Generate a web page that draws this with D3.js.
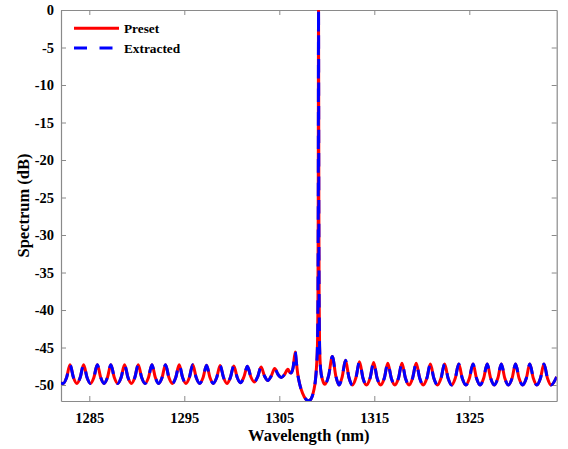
<!DOCTYPE html>
<html>
<head>
<meta charset="utf-8">
<script src="https://cdn.jsdelivr.net/npm/d3@7"></script>
<style>
    html, body { margin: 0; padding: 0; background: #fff; overflow: hidden; }
    svg { display: block; }
    svg text { font-family: "Liberation Serif", "Times New Roman", serif; font-weight: bold; fill: #000; }
</style>
</head>
<body>
<svg id="chart"></svg>
<script>
// wavelength samples (nm)
const wavelength = [
    1282.02, 1282.25, 1282.61, 1282.97, 1283.33, 1283.69, 1284.04, 1284.40, 1284.76, 1285.12,
    1285.48, 1285.84, 1286.20, 1286.55, 1286.91, 1287.27, 1287.63, 1287.99, 1288.35, 1288.71,
    1289.07, 1289.43, 1289.79, 1290.15, 1290.51, 1290.87, 1291.23, 1291.59, 1291.95, 1292.30,
    1292.66, 1293.02, 1293.38, 1293.74, 1294.10, 1294.46, 1294.82, 1295.17, 1295.53, 1295.89,
    1296.25, 1296.62, 1296.98, 1297.34, 1297.70, 1298.05, 1298.41, 1298.77, 1299.13, 1299.49,
    1299.85, 1300.21, 1300.57, 1300.92, 1301.28, 1301.64, 1302.00, 1302.36, 1302.72, 1303.08,
    1303.44, 1303.80, 1304.15, 1304.51, 1304.87, 1305.20, 1305.55, 1305.90, 1306.10, 1306.25,
    1306.45, 1306.68, 1306.80, 1306.95, 1307.15, 1307.45, 1307.80, 1308.10, 1308.40, 1308.65,
    1308.78, 1308.92, 1309.02, 1309.07, 1309.10, 1309.13, 1309.16, 1309.19, 1309.24, 1309.35,
    1309.55, 1309.80, 1310.20, 1310.58, 1310.95, 1311.28, 1311.62, 1311.97, 1312.33, 1312.70,
    1313.07, 1313.44, 1313.81, 1314.18, 1314.55, 1314.93, 1315.30, 1315.67, 1316.05, 1316.42,
    1316.79, 1317.16, 1317.54, 1317.91, 1318.28, 1318.66, 1319.03, 1319.41, 1319.78, 1320.15,
    1320.53, 1320.90, 1321.27, 1321.65, 1322.02, 1322.40, 1322.77, 1323.14, 1323.52, 1323.89,
    1324.26, 1324.64, 1325.01, 1325.39, 1325.76, 1326.13, 1326.51, 1326.88, 1327.25, 1327.62,
    1328.00, 1328.37, 1328.74, 1329.12, 1329.50, 1329.87, 1330.24, 1330.62, 1331.00, 1331.37,
    1331.74, 1332.11, 1332.49, 1332.86, 1333.23, 1333.60, 1334.20
];

// preset spectrum (dB)
const presetDb = [
    -49.7, -49.8, -49.0, -47.3, -49.0, -49.8, -49.0, -47.3, -49.0, -49.8,
    -49.0, -47.3, -49.0, -49.8, -49.0, -47.3, -49.0, -49.8, -49.0, -47.3,
    -49.0, -49.8, -49.0, -47.3, -49.0, -49.8, -49.0, -47.3, -49.0, -49.8,
    -49.0, -47.3, -49.0, -49.8, -49.0, -47.3, -49.0, -49.8, -49.0, -47.3,
    -49.0, -49.8, -49.0, -47.35, -49.0, -49.8, -49.0, -47.4, -49.0, -49.8,
    -49.0, -47.45, -49.0, -49.7, -48.9, -47.5, -48.9, -49.6, -48.9, -47.6,
    -48.8, -49.4, -48.8, -47.8, -48.6, -49.0, -48.6, -47.9, -48.3, -48.4,
    -47.7, -45.6, -47.0, -48.6, -49.9, -51.1, -51.9, -52.1, -51.7, -50.6,
    -49.6, -47.5, -44.5, -38.0, -25.0, 0, -25.0, -38.0, -44.8, -47.9,
    -49.3, -49.9, -48.7, -46.2, -48.8, -50.0, -48.9, -46.7, -49.0, -50.0,
    -49.0, -46.9, -49.1, -50.0, -49.1, -47.0, -49.1, -50.0, -49.1, -47.1,
    -49.1, -50.0, -49.1, -47.1, -49.1, -50.0, -49.1, -47.1, -49.1, -50.0,
    -49.1, -47.2, -49.1, -50.0, -49.1, -47.2, -49.1, -50.0, -49.1, -47.2,
    -49.1, -50.0, -49.1, -47.2, -49.1, -50.0, -49.1, -47.2, -49.1, -50.0,
    -49.1, -47.2, -49.1, -50.0, -49.1, -47.2, -49.1, -50.0, -49.1, -47.2,
    -49.1, -50.0, -49.1, -47.2, -49.1, -50.0, -48.9
];

// extracted spectrum lies on top of the preset one everywhere in the figure
const extractedDb = [...presetDb];

const xTicks = [1285, 1295, 1305, 1315, 1325];
const yTicks = [0, -5, -10, -15, -20, -25, -30, -35, -40, -45, -50];

const seriesNames = ['Preset', 'Extracted'];
const seriesColors = ['#ff0000', '#0000ff'];

const width = 568, height = 449;
const margin = {top: 10, right: 11.3, bottom: 48, left: 61};
const innerWidth = width - margin.left - margin.right;
const innerHeight = height - margin.top - margin.bottom;

const svg = d3.select('#chart')
    .attr('width', width)
    .attr('height', height);

const chart = svg.append('g')
    .attr('transform', `translate(${margin.left}, ${margin.top})`);

const xscale = d3.scaleLinear()
    .domain([1282.02, 1334.2])
    .range([0, innerWidth]);

const yscale = d3.scaleLinear()
    .domain([-52.13, 0])
    .range([innerHeight, 0]);

chart.append('clipPath')
    .attr('id', 'plot-clip')
    .append('rect')
    .attr('width', innerWidth)
    .attr('height', innerHeight);

const axisColor = '#8a8a8a';
const tickLen = 5;
const plain = d => String(d);   // hyphen minus, no thousands separator

// axes with inward ticks (box style)
const xaxisBottom = chart.append('g')
    .attr('transform', `translate(0, ${innerHeight})`)
    .call(d3.axisBottom(xscale).tickValues(xTicks).tickSizeInner(-tickLen).tickSizeOuter(0).tickPadding(12).tickFormat(plain));
const xaxisTop = chart.append('g')
    .call(d3.axisTop(xscale).tickValues(xTicks).tickSizeInner(-tickLen).tickSizeOuter(0));
const yaxisLeft = chart.append('g')
    .call(d3.axisLeft(yscale).tickValues(yTicks).tickSizeInner(-tickLen).tickSizeOuter(0).tickPadding(7).tickFormat(plain));
const yaxisRight = chart.append('g')
    .attr('transform', `translate(${innerWidth}, 0)`)
    .call(d3.axisRight(yscale).tickValues(yTicks).tickSizeInner(-tickLen).tickSizeOuter(0));

// mirrored axes carry ticks only
xaxisTop.selectAll('.tick text').remove();
yaxisRight.selectAll('.tick text').remove();

[xaxisBottom, xaxisTop, yaxisLeft, yaxisRight].forEach(g => {
    g.attr('font-family', null).attr('font-size', null);
    g.select('.domain').attr('stroke', axisColor).attr('stroke-width', 1.2);
    g.selectAll('.tick line').attr('stroke', axisColor);
    g.selectAll('.tick text')
        .style('font-size', '14.5px')
        .attr('fill', '#000');
});

const line = (values) => d3.line()
    .x((d, i) => xscale(wavelength[i]))
    .y(d => yscale(d))
    .curve(d3.curveMonotoneX)(values);

const plot = chart.append('g').attr('clip-path', 'url(#plot-clip)');

plot.append('path')
    .attr('d', line(presetDb))
    .attr('fill', 'none')
    .attr('stroke', seriesColors[0])
    .attr('stroke-width', 3);

plot.append('path')
    .attr('d', line(extractedDb))
    .attr('fill', 'none')
    .attr('stroke', seriesColors[1])
    .attr('stroke-width', 3)
    .attr('stroke-dasharray', '13.5,10');

// legend
const legend = chart.append('g')
    .attr('transform', 'translate(13, 18.3)');

const legendItems = legend.selectAll('.legend-item')
    .data(seriesNames)
    .join('g')
    .attr('class', 'legend-item')
    .attr('transform', (d, i) => `translate(0, ${i * 19.7})`);

legendItems.append('line')
    .attr('x1', 0)
    .attr('x2', 45)
    .attr('stroke', (d, i) => seriesColors[i])
    .attr('stroke-width', 3)
    .attr('stroke-dasharray', (d, i) => i === 1 ? '13,12.5' : null);

legendItems.append('text')
    .attr('x', 50)
    .attr('y', 4.8)
    .style('font-size', '13.3px')
    .text(d => d);

// axis labels
svg.append('text')
    .attr('x', margin.left + innerWidth / 2)
    .attr('y', 441)
    .attr('text-anchor', 'middle')
    .style('font-size', '16.5px')
    .text('Wavelength (nm)');

svg.append('text')
    .attr('transform', `translate(29, ${margin.top + innerHeight / 2}) rotate(-90)`)
    .attr('text-anchor', 'middle')
    .style('font-size', '16.5px')
    .text('Spectrum (dB)');
</script>
</body>
</html>
